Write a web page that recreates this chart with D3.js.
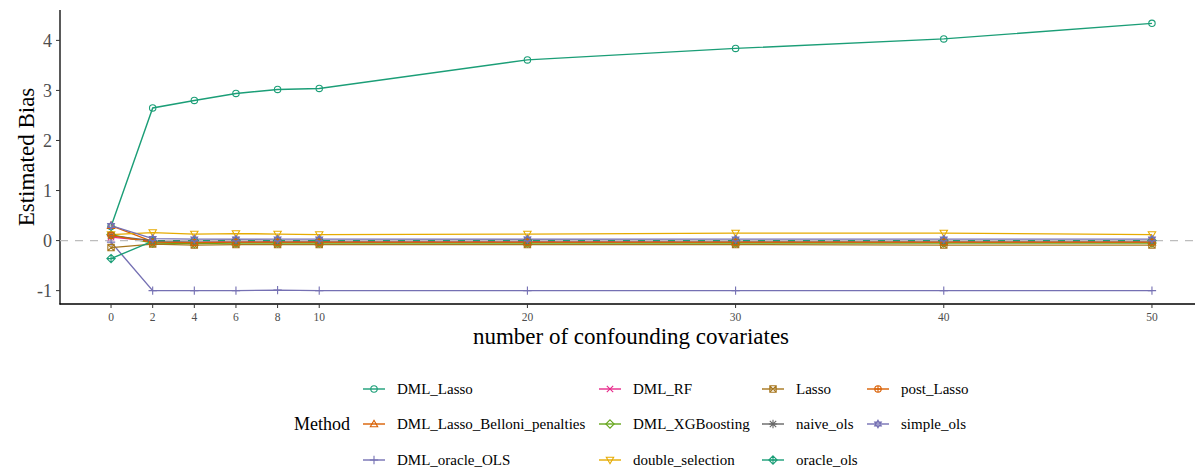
<!DOCTYPE html>
<html>
<head>
<meta charset="utf-8">
<script src="https://cdn.jsdelivr.net/npm/d3@7"></script>
<style>
  html, body { margin: 0; padding: 0; background: #fff; }
  svg { display: block; font-family: "Liberation Serif", "Times New Roman", serif; }
</style>
</head>
<body>
<svg id="chart" width="1195" height="469"></svg>
<script>
// Number of confounding covariates (x positions)
const covariates = [0, 2, 4, 6, 8, 10, 20, 30, 40, 50];

// Estimated bias per method
const methods = ["DML_Lasso", "DML_Lasso_Belloni_penalties", "DML_oracle_OLS", "DML_RF",
  "DML_XGBoosting", "double_selection", "Lasso", "naive_ols", "oracle_ols", "post_Lasso", "simple_ols"];
const DML_Lasso = [0.28, 2.65, 2.80, 2.94, 3.02, 3.04, 3.61, 3.84, 4.03, 4.34];
const DML_Lasso_Belloni_penalties = [0.30, -0.02, -0.04, -0.03, -0.03, -0.03, -0.03, -0.03, -0.03, -0.03];
const DML_oracle_OLS = [-0.03, -1.00, -1.00, -1.00, -0.99, -1.00, -1.00, -1.00, -1.00, -1.00];
const DML_RF = [0.07, -0.01, -0.03, -0.02, -0.02, -0.02, -0.02, -0.01, -0.01, -0.01];
const DML_XGBoosting = [0.12, -0.05, -0.06, -0.05, -0.05, -0.05, -0.05, -0.05, -0.05, -0.05];
const double_selection = [0.12, 0.16, 0.13, 0.14, 0.13, 0.12, 0.13, 0.15, 0.15, 0.12];
const Lasso = [-0.14, -0.07, -0.09, -0.08, -0.08, -0.08, -0.08, -0.08, -0.09, -0.09];
const naive_ols = [0.10, 0.00, 0.00, 0.01, 0.00, 0.00, 0.01, 0.00, 0.00, 0.00];
const oracle_ols = [-0.36, -0.01, 0.00, 0.00, 0.00, 0.00, 0.00, 0.00, 0.00, 0.00];
const post_Lasso = [0.10, -0.03, -0.04, -0.03, -0.03, -0.03, -0.03, -0.03, -0.03, -0.03];
const simple_ols = [0.30, 0.04, 0.03, 0.03, 0.03, 0.03, 0.03, 0.03, 0.03, 0.03];

const xTicks = [0, 2, 4, 6, 8, 10, 20, 30, 40, 50];
const yTicks = [-1, 0, 1, 2, 3, 4];

const seriesValues = [DML_Lasso, DML_Lasso_Belloni_penalties, DML_oracle_OLS, DML_RF,
  DML_XGBoosting, double_selection, Lasso, naive_ols, oracle_ols, post_Lasso, simple_ols];

// Dark2 palette, recycled past eight groups
const dark2 = ["#1B9E77", "#D95F02", "#7570B3", "#E7298A", "#66A61E", "#E6AB02", "#A6761D", "#666666"];
const shapes = ["circle", "triangle", "plus", "cross", "diamond", "triangleDown",
  "squareCross", "asterisk", "diamondPlus", "circlePlus", "starDavid"];

const series = methods.map((m, i) => ({
  name: m,
  color: dark2[i % dark2.length],
  shape: shapes[i],
  points: covariates.map((c, j) => ({ x: c, y: seriesValues[i][j] }))
}));

const svg = d3.select("#chart");

// Panel geometry
const x = d3.scaleLinear().domain([-2.5, 52.5]).range([59, 1204]);
const y = d3.scaleLinear().domain([-1.267, 4.607]).range([304, 10]);

// Marker path generator (s = half-size)
function markerPath(shape, s) {
  const p = d3.path();
  switch (shape) {
    case "circle":
      p.moveTo(s, 0); p.arc(0, 0, s, 0, 2 * Math.PI); break;
    case "triangle": {
      const h = s * 1.15;
      p.moveTo(0, -h); p.lineTo(h, h * 0.75); p.lineTo(-h, h * 0.75); p.closePath(); break;
    }
    case "triangleDown": {
      const h = s * 1.15;
      p.moveTo(0, h); p.lineTo(h, -h * 0.75); p.lineTo(-h, -h * 0.75); p.closePath(); break;
    }
    case "plus":
      p.moveTo(-s * 1.3, 0); p.lineTo(s * 1.3, 0); p.moveTo(0, -s * 1.3); p.lineTo(0, s * 1.3); break;
    case "cross":
      p.moveTo(-s, -s); p.lineTo(s, s); p.moveTo(-s, s); p.lineTo(s, -s); break;
    case "diamond": {
      const d = s * 1.3;
      p.moveTo(0, -d); p.lineTo(d, 0); p.lineTo(0, d); p.lineTo(-d, 0); p.closePath(); break;
    }
    case "squareCross":
      p.rect(-s, -s, 2 * s, 2 * s);
      p.moveTo(-s, -s); p.lineTo(s, s); p.moveTo(-s, s); p.lineTo(s, -s); break;
    case "asterisk":
      p.moveTo(-s, -s); p.lineTo(s, s); p.moveTo(-s, s); p.lineTo(s, -s);
      p.moveTo(-s * 1.3, 0); p.lineTo(s * 1.3, 0); p.moveTo(0, -s * 1.3); p.lineTo(0, s * 1.3); break;
    case "diamondPlus": {
      const d = s * 1.3;
      p.moveTo(0, -d); p.lineTo(d, 0); p.lineTo(0, d); p.lineTo(-d, 0); p.closePath();
      p.moveTo(-d, 0); p.lineTo(d, 0); p.moveTo(0, -d); p.lineTo(0, d); break;
    }
    case "circlePlus":
      p.moveTo(s, 0); p.arc(0, 0, s, 0, 2 * Math.PI);
      p.moveTo(-s, 0); p.lineTo(s, 0); p.moveTo(0, -s); p.lineTo(0, s); break;
    case "starDavid": {
      const h = s * 1.2;
      p.moveTo(0, -h); p.lineTo(h * 0.87, h * 0.5); p.lineTo(-h * 0.87, h * 0.5); p.closePath();
      p.moveTo(0, h); p.lineTo(h * 0.87, -h * 0.5); p.lineTo(-h * 0.87, -h * 0.5); p.closePath(); break;
    }
  }
  return p.toString();
}

// Axis lines and ticks
const gAxes = svg.append("g");
gAxes.append("line").attr("x1", 60).attr("x2", 60).attr("y1", 10).attr("y2", 304.5)
  .attr("stroke", "#000").attr("stroke-width", 1.3);
gAxes.append("line").attr("x1", 59.5).attr("x2", 1195).attr("y1", 304).attr("y2", 304)
  .attr("stroke", "#000").attr("stroke-width", 1.3);

yTicks.forEach(t => {
  gAxes.append("line").attr("x1", 56).attr("x2", 60).attr("y1", y(t)).attr("y2", y(t))
    .attr("stroke", "#333").attr("stroke-width", 1);
  gAxes.append("text").attr("x", 52).attr("y", y(t)).attr("dy", "0.35em")
    .attr("text-anchor", "end").attr("font-size", 18).attr("fill", "#4D4D4D").text(t);
});
xTicks.forEach(t => {
  gAxes.append("line").attr("x1", x(t)).attr("x2", x(t)).attr("y1", 304).attr("y2", 308)
    .attr("stroke", "#333").attr("stroke-width", 1);
  gAxes.append("text").attr("x", x(t)).attr("y", 321)
    .attr("text-anchor", "middle").attr("font-size", 11.5).attr("fill", "#4D4D4D").text(t);
});

// Axis titles
svg.append("text").attr("x", 631).attr("y", 344).attr("text-anchor", "middle")
  .attr("font-size", 23).attr("fill", "#000").text("number of confounding covariates");
svg.append("text").attr("transform", `translate(34,${157}) rotate(-90)`)
  .attr("text-anchor", "middle").attr("font-size", 23).attr("fill", "#000").text("Estimated Bias");

// Lines
const line = d3.line().x(d => x(d.x)).y(d => y(d.y));
const gLines = svg.append("g");
series.forEach(s => {
  gLines.append("path").datum(s.points).attr("d", line)
    .attr("fill", "none").attr("stroke", s.color).attr("stroke-width", 1.4);
});

// Zero reference line
svg.append("line").attr("x1", 60).attr("x2", 1195).attr("y1", y(0)).attr("y2", y(0))
  .attr("stroke", "#BDBDBD").attr("stroke-width", 1.4).attr("stroke-dasharray", "8,7");

// Points
const gPts = svg.append("g");
series.forEach(s => {
  gPts.selectAll(null).data(s.points).join("path")
    .attr("transform", d => `translate(${x(d.x)},${y(d.y)})`)
    .attr("d", markerPath(s.shape, 3.2))
    .attr("fill", "none").attr("stroke", s.color).attr("stroke-width", 1.1);
});

// Legend
const legend = svg.append("g");
legend.append("text").attr("x", 294).attr("y", 424).attr("dy", "0.35em")
  .attr("font-size", 18).attr("fill", "#000").text("Method");
const colX = [363, 599, 762, 867];
const rowY = [389, 424, 460];
series.forEach((s, i) => {
  const col = Math.floor(i / 3), row = i % 3;
  const kx = colX[col], ky = rowY[row];
  const g = legend.append("g").attr("transform", `translate(${kx},${ky})`);
  g.append("line").attr("x1", 0).attr("x2", 22).attr("y1", 0).attr("y2", 0)
    .attr("stroke", s.color).attr("stroke-width", 1.4);
  g.append("path").attr("transform", "translate(11,0)").attr("d", markerPath(s.shape, 3.2))
    .attr("fill", "none").attr("stroke", s.color).attr("stroke-width", 1.1);
  g.append("text").attr("x", 34).attr("y", 0).attr("dy", "0.35em")
    .attr("font-size", 15).attr("fill", "#000").text(s.name);
});
</script>
</body>
</html>
